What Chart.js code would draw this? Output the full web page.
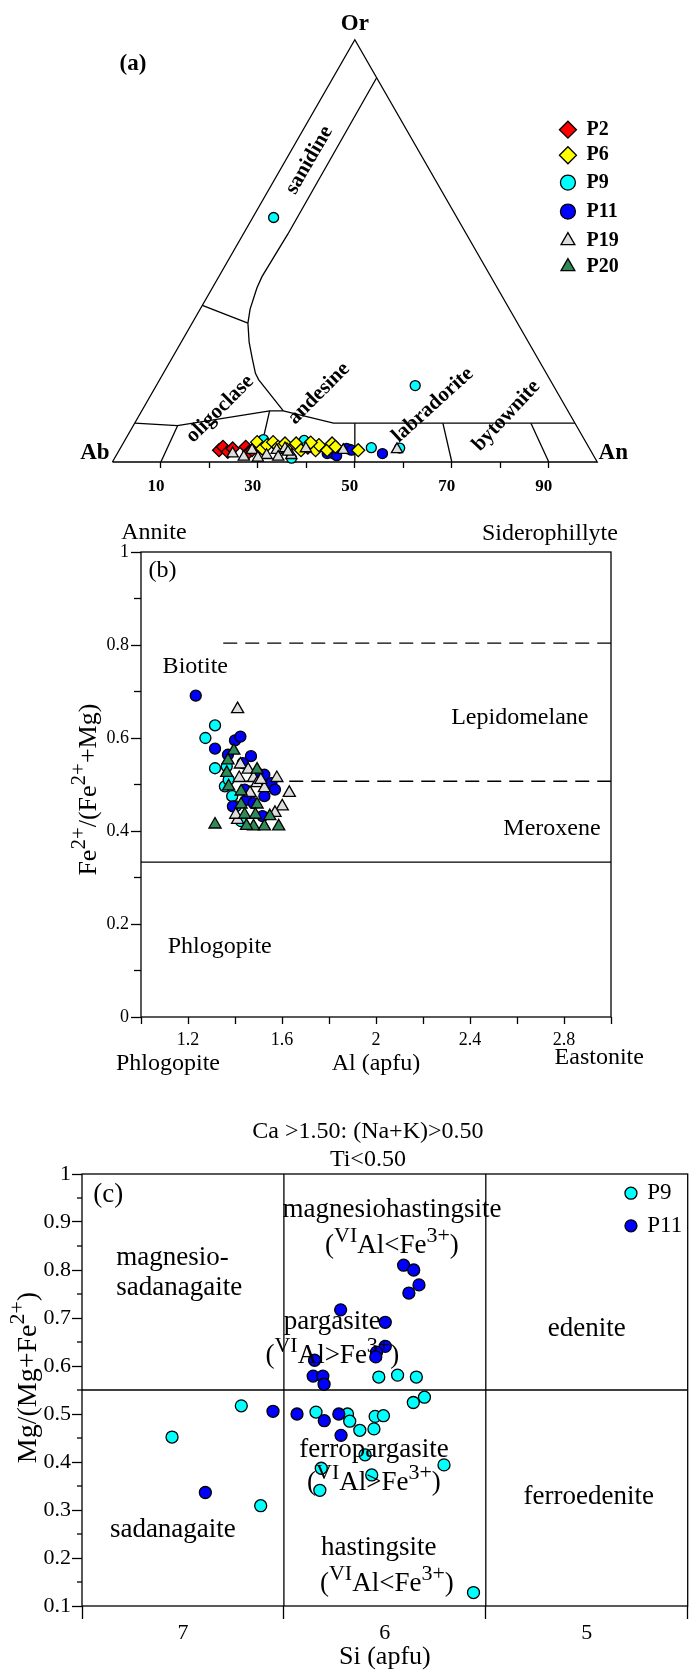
<!DOCTYPE html>
<html>
<head>
<meta charset="utf-8">
<script src="https://cdn.jsdelivr.net/npm/chart.js@4.4.0/dist/chart.umd.min.js"></script>
<style>
  html, body { margin: 0; padding: 0; background: #fff; }
  #wrap { position: relative; width: 695px; height: 1675px; }
  canvas { position: absolute; left: 0; }
</style>
</head>
<body>
<div id="wrap">
  <canvas id="chart-a" width="695" height="500" style="top:0"></canvas>
  <canvas id="chart-b" width="695" height="580" style="top:500px"></canvas>
  <canvas id="chart-c" width="695" height="595" style="top:1080px"></canvas>
</div>
<script>
// ---- (a) feldspar ternary, An / Or in mol %
const p2An = [20.6, 21.0, 22.6, 23.2, 25.7, 27.0, 27.4, 37.4, 38.6];
const p2Or = [2.8, 3.6, 2.4, 3.2, 3.6, 2.4, 2.8, 4.4, 3.4];
const p6An = [27.5, 29.3, 29.9, 30.8, 32.4, 33.4, 35.7, 37.5, 40.5, 40.6, 42.9, 43.1, 44.2, 49.3, 34.5, 38.6];
const p6Or = [4.7, 3.2, 4.0, 4.7, 3.6, 4.4, 4.4, 2.8, 2.8, 4.0, 2.8, 4.4, 3.6, 2.8, 3.0, 4.6];
const p9An = [4.3, 53.4, 51.7, 57.6, 28.5, 36.5, 37.0, 44.5, 47.5];
const p9Or = [57.9, 18.1, 3.4, 3.3, 5.3, 0.9, 5.1, 2.0, 3.0];
const p11An = [43.3, 44.9, 46.7, 47.9, 54.7, 45.5];
const p11Or = [2.0, 2.8, 3.2, 2.8, 2.0, 1.5];
const p19An = [23.8, 26.5, 27.4, 31.0, 32.5, 33.6, 34.0, 36.1, 38.3, 46.2, 57.2, 29.5, 35.0];
const p19Or = [2.0, 1.2, 2.8, 1.6, 2.8, 1.2, 3.2, 1.6, 3.2, 2.8, 3.0, 1.0, 2.4];
const p20An = [];
const p20Or = [];

// field boundaries, [An, Or]
const triEdge = [[0, 0], [100, 0], [0, 100], [0, 0]];
const sanidineLine = [[9, 91], [9.2, 54], [8.9, 43.9], [9.2, 41.2], [10.3, 36.2], [11.5, 32.9], [14, 28.4], [16.6, 24.5], [19, 21], [20.4, 19.5], [29.2, 12.1]];
const orthoLine = [[0, 37.1], [11.5, 32.9]];
const plagTop = [[0, 9.2], [9.1, 8.6], [26.4, 12.1], [29.2, 12.1], [41, 9.2], [90.8, 9.2]];
const plagDivAn = [10, 30, 50, 70, 90];
const plagDivOr = [8.6, 12.1, 9.2, 9.2, 9.2];
const baseTicks = [10, 20, 30, 40, 50, 60, 70, 80, 90];
const baseLabels = [10, 30, 50, 70, 90];

// ---- (b) biotite
const p9bAl = [1.315, 1.274, 1.315, 1.357, 1.373, 1.388, 1.403, 1.426, 1.365];
const p9bFe = [0.627, 0.600, 0.535, 0.496, 0.510, 0.475, 0.453, 0.421, 0.539];
const p11bAl = [1.233, 1.400, 1.423, 1.315, 1.370, 1.468, 1.433, 1.525, 1.555, 1.570, 1.441, 1.391, 1.525, 1.449, 1.517, 1.494, 1.479];
const p11bFe = [0.691, 0.595, 0.603, 0.577, 0.564, 0.561, 0.546, 0.521, 0.503, 0.489, 0.489, 0.453, 0.475, 0.467, 0.432, 0.525, 0.460];
const p19bAl = [1.411, 1.423, 1.456, 1.418, 1.479, 1.494, 1.525, 1.578, 1.631, 1.601, 1.570, 1.411, 1.510, 1.464, 1.403];
const p19bFe = [0.662, 0.543, 0.532, 0.514, 0.514, 0.503, 0.492, 0.514, 0.482, 0.453, 0.439, 0.424, 0.510, 0.482, 0.435];
const p20bAl = [1.315, 1.395, 1.370, 1.365, 1.373, 1.426, 1.494, 1.426, 1.494, 1.441, 1.487, 1.548, 1.479, 1.525, 1.586, 1.449];
const p20bFe = [0.414, 0.573, 0.552, 0.525, 0.496, 0.485, 0.532, 0.457, 0.457, 0.435, 0.435, 0.432, 0.410, 0.410, 0.410, 0.411];
const bLabelsX = [1.2, 1.6, 2, 2.4, 2.8];
const bMinorY = [0.1, 0.3, 0.5, 0.7, 0.9];

// ---- (c) amphibole
const p9cSi = [6.03, 5.937, 5.844, 5.804, 5.859, 6.711, 7.054, 6.341, 6.185, 6.174, 6.124, 6.054, 6.048, 6.007, 6.098, 6.315, 6.065, 6.322, 6.615, 5.707, 5.561];
const p9cMg = [0.577, 0.581, 0.577, 0.535, 0.524, 0.517, 0.452, 0.504, 0.500, 0.485, 0.466, 0.469, 0.495, 0.4965, 0.415, 0.387, 0.373, 0.341, 0.309, 0.394, 0.128];
const p11cSi = [5.907, 5.857, 5.831, 5.881, 6.219, 5.998, 5.998, 6.041, 6.045, 6.348, 6.355, 6.307, 6.301, 6.554, 6.435, 6.30, 6.228, 6.217, 6.889];
const p11cMg = [0.81, 0.80, 0.769, 0.752, 0.717, 0.691, 0.641, 0.629, 0.619, 0.612, 0.579, 0.579, 0.562, 0.5056, 0.50, 0.486, 0.50, 0.4555, 0.3365];
const cSiBounds = [6.5, 5.5];
const cMgBound = 0.55;
const cMinorY = [0.15, 0.25, 0.35, 0.45, 0.55, 0.65, 0.75, 0.85, 0.95];

const SERIF = '"Liberation Serif", "Times New Roman", serif';
Chart.defaults.font.family = SERIF;
Chart.defaults.color = '#000';

const H = Math.sqrt(3) / 2;
const tern = (an, or) => ({ x: an + or / 2, y: or * H });
const ternPts = (an, or) => an.map((a, i) => tern(a, or[i]));
const xyPts = (xs, ys) => xs.map((v, i) => ({ x: v, y: ys[i] }));

function lineDs(points, dash, order) {
  return { data: points, showLine: true, pointRadius: 0, borderColor: '#000', borderWidth: 1.3,
           borderDash: dash || [], fill: false, tension: 0, clip: false, order: order || 10 };
}
function markDs(label, points, style, fill, radius, order) {
  return { label, data: points, pointStyle: style, backgroundColor: fill, borderColor: '#000',
           borderWidth: 1.3, pointRadius: radius, pointHoverRadius: radius, clip: false, order };
}

// text with optional superscript parts: [[text, isSup], ...]
function drawLabel(ctx, item, px, py) {
  const weight = item.bold ? 'bold ' : '';
  const size = item.size;
  const supK = item.sup || 0.75;
  const parts = typeof item.t === 'string' ? [[item.t, 0]] : item.t;
  const fontFor = sup => weight + (sup ? Math.round(size * supK) : size) + 'px ' + SERIF;
  ctx.save();
  ctx.translate(px, py);
  if (item.rot) ctx.rotate(item.rot * Math.PI / 180);
  ctx.textBaseline = 'middle';
  ctx.textAlign = 'left';
  ctx.fillStyle = '#000';
  let w = 0;
  parts.forEach(p => { ctx.font = fontFor(p[1]); w += ctx.measureText(p[0]).width; });
  let cx = item.align === 'left' ? 0 : item.align === 'right' ? -w : -w / 2;
  parts.forEach(p => {
    ctx.font = fontFor(p[1]);
    ctx.fillText(p[0], cx, p[1] ? -size * 0.36 : 0);
    cx += ctx.measureText(p[0]).width;
  });
  ctx.restore();
}

const textPlugin = {
  id: 'textLabels',
  afterDatasetsDraw(chart, args, opts) {
    const { ctx, scales } = chart;
    (opts.items || []).forEach(it => {
      drawLabel(ctx, it, scales.x.getPixelForValue(it.x), scales.y.getPixelForValue(it.y));
    });
  }
};

const legendPlugin = {
  id: 'markLegend',
  afterDatasetsDraw(chart, args, opts) {
    if (!opts.rows) return;
    const { ctx, scales } = chart;
    opts.rows.forEach(row => {
      const ds = chart.data.datasets.find(d => d.label === row.label);
      const px = scales.x.getPixelForValue(opts.x);
      const py = scales.y.getPixelForValue(row.y);
      ctx.save();
      ctx.fillStyle = ds.backgroundColor;
      ctx.strokeStyle = ds.borderColor;
      ctx.lineWidth = ds.borderWidth;
      Chart.helpers.drawPoint(ctx, { pointStyle: ds.pointStyle, radius: opts.radius[ds.pointStyle],
                                     rotation: 0, borderWidth: ds.borderWidth }, px, py);
      ctx.restore();
      drawLabel(ctx, { t: row.label, size: opts.size, bold: opts.bold, align: 'left' },
                scales.x.getPixelForValue(opts.textX), py);
    });
  }
};

const framePlugin = {
  id: 'frame',
  afterDraw(chart, args, opts) {
    if (!opts.on) return;
    const { ctx, chartArea: a, scales } = chart;
    ctx.save();
    ctx.strokeStyle = '#000';
    ctx.lineWidth = 1.3;
    ctx.strokeRect(a.left, a.top, a.right - a.left, a.bottom - a.top);
    (opts.minor || []).forEach(v => {
      const py = scales.y.getPixelForValue(v);
      ctx.beginPath();
      ctx.moveTo(a.left - opts.minorLen, py);
      ctx.lineTo(a.left, py);
      ctx.stroke();
    });
    ctx.restore();
  }
};

const baseOpts = {
  responsive: false,
  animation: false,
  events: [],
};

// ================= (a)
const aData = [
  lineDs(triEdge.map(p => tern(p[0], p[1]))),
  lineDs(sanidineLine.map(p => tern(p[0], p[1]))),
  lineDs(orthoLine.map(p => tern(p[0], p[1]))),
  lineDs(plagTop.map(p => tern(p[0], p[1]))),
];
plagDivAn.forEach((an, i) => {
  const or = plagDivOr[i];
  aData.push(lineDs([tern(an, 0), tern(an * (100 - or) / 100, or)]));
});
aData.push(
  markDs('P2', ternPts(p2An, p2Or), 'rectRot', '#ff0000', 6.5, 6),
  markDs('P6', ternPts(p6An, p6Or), 'rectRot', '#ffff00', 6.5, 3),
  markDs('P9', ternPts(p9An, p9Or), 'circle', '#00ffff', 5, 5),
  markDs('P11', ternPts(p11An, p11Or), 'circle', '#0000ff', 5, 4),
  markDs('P19', ternPts(p19An, p19Or), 'triangle', '#dddddd', 6.5, 1),
  markDs('P20', ternPts(p20An, p20Or), 'triangle', '#2e8b57', 6.5, 2)
);

new Chart(document.getElementById('chart-a'), {
  type: 'scatter',
  data: { datasets: aData },
  options: Object.assign({}, baseOpts, {
    layout: { padding: 0 },
    scales: {
      x: {
        type: 'linear', min: -21.573, max: 118.548,
        afterFit: s => { s.height = 38; },
        afterBuildTicks: s => { s.ticks = baseTicks.map(v => ({ value: v })); },
        ticks: {
          autoSkip: false, maxRotation: 0, padding: 8, labelOffset: -5,
          font: { size: 17, weight: 'bold' },
          callback: v => baseLabels.includes(v) ? String(v) : ''
        },
        grid: { drawOnChartArea: false, tickLength: 6, tickColor: '#000', tickWidth: 1.3 },
        border: { display: false }
      },
      y: { type: 'linear', min: 0, max: 93.145, display: false }
    },
    plugins: {
      legend: { display: false }, tooltip: { enabled: false },
      textLabels: { items: [
        { t: 'Or', x: 50, y: 89.9, size: 23, bold: true },
        { t: '(a)', x: 4.23, y: 81.65, size: 23, bold: true },
        { t: 'Ab', x: -3.6, y: 1.81, size: 23, bold: true },
        { t: 'An', x: 103.3, y: 1.81, size: 23, bold: true },
        { t: 'sanidine', x: 40.6, y: 61.9, size: 21, bold: true, rot: -60 },
        { t: 'oligoclase', x: 22.2, y: 10.9, size: 21, bold: true, rot: -45 },
        { t: 'andesine', x: 42.6, y: 14.05, size: 21, bold: true, rot: -45 },
        { t: 'labradorite', x: 66.1, y: 11.7, size: 21, bold: true, rot: -42 },
        { t: 'bytownite', x: 81.25, y: 9.5, size: 21, bold: true, rot: -47 }
      ] },
      markLegend: {
        x: 93.95, textX: 97.8, size: 20, bold: true,
        radius: { rectRot: 8.5, circle: 7.5, triangle: 8 },
        rows: [
          { label: 'P2', y: 68.15 }, { label: 'P6', y: 62.9 }, { label: 'P9', y: 57.3 },
          { label: 'P11', y: 51.35 }, { label: 'P19', y: 45.4 }, { label: 'P20', y: 40.06 }
        ]
      }
    }
  }),
  plugins: [textPlugin, legendPlugin]
});

// ================= (b)
const bFmt = v => String(Math.round(v * 10) / 10);
new Chart(document.getElementById('chart-b'), {
  type: 'scatter',
  data: { datasets: [
    lineDs([{ x: 1.35, y: 0.804 }, { x: 3, y: 0.804 }], [14, 8]),
    lineDs([{ x: 1.35, y: 0.507 }, { x: 3, y: 0.507 }], [14, 8]),
    lineDs([{ x: 1, y: 0.333 }, { x: 3, y: 0.333 }]),
    markDs('P9', xyPts(p9bAl, p9bFe), 'circle', '#00ffff', 5.5, 4),
    markDs('P11', xyPts(p11bAl, p11bFe), 'circle', '#0000ff', 5.5, 3),
    markDs('P19', xyPts(p19bAl, p19bFe), 'triangle', '#dddddd', 7, 2),
    markDs('P20', xyPts(p20bAl, p20bFe), 'triangle', '#2e8b57', 7, 1)
  ] },
  options: Object.assign({}, baseOpts, {
    layout: { padding: { top: 52, right: 84, left: 0, bottom: 0 } },
    scales: {
      x: {
        type: 'linear', min: 1, max: 3,
        afterFit: s => { s.height = 63; },
        ticks: {
          stepSize: 0.2, autoSkip: false, maxRotation: 0, padding: 5, font: { size: 18 },
          callback: v => bLabelsX.some(t => Math.abs(t - v) < 1e-6) ? bFmt(v) : ''
        },
        grid: { drawOnChartArea: false, tickLength: 7, tickColor: '#000', tickWidth: 1.3 },
        border: { display: false }
      },
      y: {
        type: 'linear', min: 0, max: 1,
        afterFit: s => { s.width = 141; },
        ticks: { stepSize: 0.2, autoSkip: false, padding: 2, font: { size: 18 }, callback: bFmt },
        grid: { drawOnChartArea: false, tickLength: 10, tickColor: '#000', tickWidth: 1.3 },
        border: { display: false }
      }
    },
    plugins: {
      legend: { display: false }, tooltip: { enabled: false },
      frame: { on: true, minor: bMinorY, minorLen: 7 },
      textLabels: { items: [
        { t: 'Annite', x: 1.055, y: 1.042, size: 24 },
        { t: 'Siderophillyte', x: 2.74, y: 1.039, size: 24 },
        { t: '(b)', x: 1.091, y: 0.96, size: 24 },
        { t: 'Biotite', x: 1.231, y: 0.754, size: 24 },
        { t: 'Lepidomelane', x: 2.612, y: 0.643, size: 24 },
        { t: 'Meroxene', x: 2.749, y: 0.406, size: 24 },
        { t: 'Phlogopite', x: 1.335, y: 0.152, size: 24 },
        { t: 'Phlogopite', x: 1.115, y: -0.1, size: 24 },
        { t: 'Al (apfu)', x: 2.0, y: -0.1, size: 24 },
        { t: 'Eastonite', x: 2.95, y: -0.088, size: 24 },
        { t: [['Fe', 0], ['2+', 1], ['/(Fe', 0], ['2+', 1], ['+Mg)', 0]], x: 0.779, y: 0.489, size: 26, sup: 0.8, rot: -90 }
      ] }
    }
  }),
  plugins: [textPlugin, framePlugin]
});

// ================= (c)
const cFmt = v => String(Math.round(v * 10) / 10);
const VIlt = [['(', 0], ['VI', 1], ['Al<Fe', 0], ['3+', 1], [')', 0]];
const VIgt = [['(', 0], ['VI', 1], ['Al>Fe', 0], ['3+', 1], [')', 0]];
new Chart(document.getElementById('chart-c'), {
  type: 'scatter',
  data: { datasets: [
    lineDs([{ x: cSiBounds[0], y: 0.1 }, { x: cSiBounds[0], y: 1 }]),
    lineDs([{ x: cSiBounds[1], y: 0.1 }, { x: cSiBounds[1], y: 1 }]),
    lineDs([{ x: 7.5, y: cMgBound }, { x: 4.5, y: cMgBound }]),
    markDs('P9', xyPts(p9cSi, p9cMg), 'circle', '#00ffff', 6, 2),
    markDs('P11', xyPts(p11cSi, p11cMg), 'circle', '#0000ff', 6, 1)
  ] },
  options: Object.assign({}, baseOpts, {
    layout: { padding: { top: 94, right: 2, left: 0, bottom: 0 } },
    scales: {
      x: {
        type: 'linear', min: 4.5, max: 7.5, reverse: true,
        afterFit: s => { s.height = 69; },
        ticks: {
          stepSize: 0.5, autoSkip: false, maxRotation: 0, padding: 1, font: { size: 22 },
          callback: v => Number.isInteger(v) ? String(v) : ''
        },
        grid: {
          drawOnChartArea: false, tickLength: 13, tickWidth: 1.3,
          tickColor: c => Number.isInteger(c.tick.value) ? 'rgba(0,0,0,0)' : '#000'
        },
        border: { display: false },
        title: { display: true, text: 'Si (apfu)', font: { size: 26 }, padding: { top: 0, bottom: 2 } }
      },
      y: {
        type: 'linear', min: 0.1, max: 1,
        afterFit: s => { s.width = 82; },
        ticks: { stepSize: 0.1, autoSkip: false, padding: 1, font: { size: 22 }, callback: cFmt },
        grid: { drawOnChartArea: false, tickLength: 10, tickColor: '#000', tickWidth: 1.3 },
        border: { display: false }
      }
    },
    plugins: {
      legend: { display: false }, tooltip: { enabled: false },
      frame: { on: true, minor: cMinorY, minorLen: 5 },
      textLabels: { items: [
        { t: 'Ca >1.50: (Na+K)>0.50', x: 6.084, y: 1.088, size: 24 },
        { t: 'Ti<0.50', x: 6.084, y: 1.029, size: 24 },
        { t: '(c)', x: 7.37, y: 0.957, size: 27 },
        { t: 'magnesiohastingsite', x: 5.965, y: 0.9255, size: 27 },
        { t: VIlt, x: 5.965, y: 0.85, size: 27, sup: 0.8 },
        { t: 'magnesio-', x: 7.33, y: 0.8255, size: 27, align: 'left' },
        { t: 'sadanagaite', x: 7.33, y: 0.763, size: 27, align: 'left' },
        { t: 'pargasite', x: 6.26, y: 0.691, size: 27 },
        { t: VIgt, x: 6.26, y: 0.622, size: 27, sup: 0.8 },
        { t: 'edenite', x: 5.0, y: 0.677, size: 27 },
        { t: 'ferropargasite', x: 6.054, y: 0.4256, size: 27 },
        { t: VIgt, x: 6.054, y: 0.356, size: 27, sup: 0.8 },
        { t: 'ferroedenite', x: 4.99, y: 0.328, size: 27 },
        { t: 'sadanagaite', x: 7.05, y: 0.259, size: 27 },
        { t: 'hastingsite', x: 6.03, y: 0.22, size: 27 },
        { t: VIlt, x: 5.99, y: 0.147, size: 27, sup: 0.8 },
        { t: [['Mg/(Mg+Fe', 0], ['2+', 1], [')', 0]], x: 7.765, y: 0.576, size: 28, sup: 0.8, rot: -90 }
      ] },
      markLegend: {
        x: 4.781, textX: 4.70, size: 23, bold: false,
        radius: { circle: 6 },
        rows: [{ label: 'P9', y: 0.96 }, { label: 'P11', y: 0.892 }]
      }
    }
  }),
  plugins: [textPlugin, framePlugin, legendPlugin]
});
</script>
</body>
</html>
